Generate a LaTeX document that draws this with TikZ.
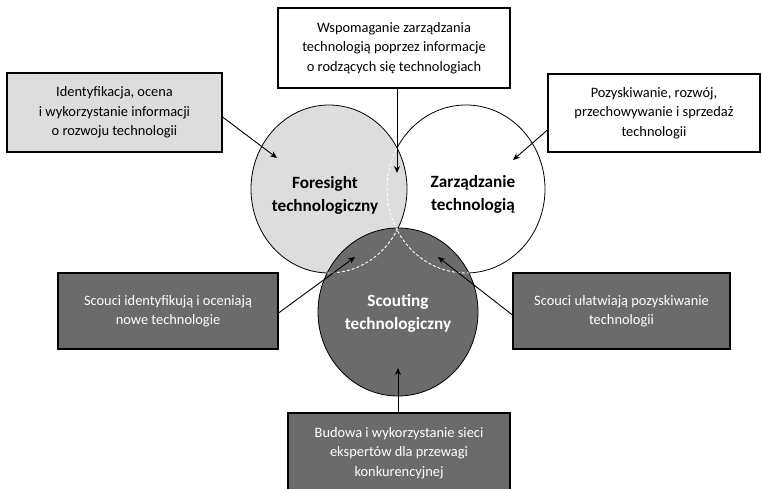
\documentclass[tikz,border=0pt]{standalone}
\usepackage{fontspec}
\setmainfont{Carlito}
\usetikzlibrary{arrows.meta}
\definecolor{lgray}{HTML}{DDDDDD}
\definecolor{dgray}{HTML}{6B6B6B}
\begin{document}
\begin{tikzpicture}[x=1pt,y=-1pt,
  box/.style={draw=black, line width=1.1pt, align=center, inner sep=0pt,
    font=\fontsize{14.4}{19.5}\selectfont},
  darkbox/.style={box, fill=dgray, text=white},
  lightbox/.style={box, fill=lgray},
  whitebox/.style={box, fill=white},
  circlabel/.style={align=center, font=\fontsize{17.2}{23}\selectfont\bfseries},
  arr/.style={draw=black, line width=0.9pt, -{Stealth[length=7pt,width=6pt]}},
  hid/.style={draw=white, line width=0.9pt, dash pattern=on 3pt off 2pt},
  circ/.style={draw=black, line width=0.8pt}]
\useasboundingbox (0,0) rectangle (762,489);
% circles
\path[circ, fill=white] (466,189) ellipse [x radius=79pt, y radius=84pt];
\path[circ, fill=lgray] (329,189) ellipse [x radius=78pt, y radius=84pt];
\begin{scope}
  \clip (329,189) ellipse [x radius=78pt, y radius=84pt];
  \path[hid] (466,189) ellipse [x radius=79pt, y radius=84pt];
\end{scope}
\path[circ, fill=dgray] (398,312) ellipse [x radius=80pt, y radius=84pt];
\begin{scope}
  \clip (398,312) ellipse [x radius=80pt, y radius=84pt];
  \path[hid] (466,189) ellipse [x radius=79pt, y radius=84pt];
  \path[hid] (329,189) ellipse [x radius=78pt, y radius=84pt];
\end{scope}
% circle labels
\node[circlabel] (Flab) at (325,195) {Foresight\\technologiczny};
\node[circlabel] (Zlab) at (473,194) {Zarządzanie\\technologią};
\node[circlabel, text=white] (Slab) at (398,313) {Scouting\\technologiczny};
% boxes
\node[lightbox, minimum width=215pt, minimum height=79pt] (lt) at (114.5,112.5)
  {Identyfikacja, ocena\\i wykorzystanie informacji\\o rozwoju technologii};
\node[whitebox, minimum width=232pt, minimum height=80pt] (tb) at (394,48)
  {Wspomaganie zarządzania\\technologią poprzez informacje\\o rodzących się technologiach};
\node[whitebox, minimum width=212pt, minimum height=78pt] (rt) at (654,113)
  {Pozyskiwanie, rozwój,\\przechowywanie i sprzedaż\\technologii};
\node[darkbox, minimum width=220pt, minimum height=76pt] (bl) at (168,311)
  {Scouci identyfikują i oceniają\\nowe technologie};
\node[darkbox, minimum width=217pt, minimum height=76pt] (br) at (621.5,311)
  {Scouci ułatwiają pozyskiwanie\\technologii};
\node[darkbox, minimum width=222pt, minimum height=80pt] (bb) at (399,453)
  {Budowa i wykorzystanie sieci\\ekspertów dla przewagi\\konkurencyjnej};
% arrow tips
\coordinate (tF) at (277,158);
\coordinate (tT) at (397,173);
\coordinate (tZ) at (513,160);
\coordinate (tSL) at (355,257);
\coordinate (tSR) at (438,257);
\coordinate (tSB) at (398,368);
% connectors
\draw[arr] ([yshift=-4.5pt]lt.east) -- (tF);
\draw[arr] ([xshift=3pt]tb.south) -- (tT);
\draw[arr] ([yshift=-17pt]rt.west) -- (tZ);
\draw[arr] ([yshift=-2pt]bl.east) -- (tSL);
\draw[arr] ([yshift=-4pt]br.west) -- (tSR);
\draw[arr] ([xshift=-1pt]bb.north) -- (tSB);
\end{tikzpicture}
\end{document}
